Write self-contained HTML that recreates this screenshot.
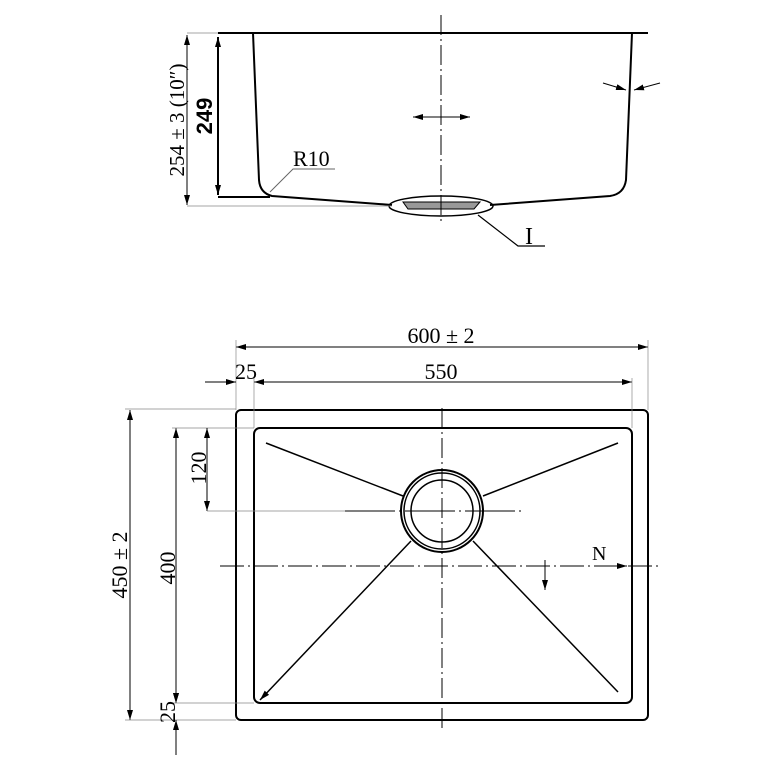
<!DOCTYPE html>
<html><head><meta charset="utf-8"><style>html,body{margin:0;padding:0;background:#fff}svg{display:block}</style></head>
<body>
<svg width="768" height="768" viewBox="0 0 768 768" xmlns="http://www.w3.org/2000/svg" font-family="Liberation Serif, serif">
<defs>
<marker id="a" viewBox="0 0 10 6" refX="10" refY="3" markerWidth="10" markerHeight="6" orient="auto-start-reverse" markerUnits="userSpaceOnUse"><path d="M0,0 L10,3 L0,6 z" fill="#000"/></marker>
</defs>
<g fill="none" stroke="#000">
<line x1="218" y1="33" x2="648" y2="33" stroke-width="2"/>
<path d="M253,33 L259,180 Q260,193 272,196 L392,205 M490,205 L610,196 Q624,194 626,180 L632,33" stroke-width="2"/>
<ellipse cx="441" cy="206" rx="52" ry="10" stroke-width="1.5"/>
<path d="M403,202 L480,202 L474,209 L408,209 Z" fill="#999" stroke-width="1"/>
<line x1="441" y1="15" x2="441" y2="225" stroke-width="1" stroke-dasharray="20,4,2,4"/>
<line x1="218" y1="37" x2="218" y2="195" stroke-width="2" marker-start="url(#a)" marker-end="url(#a)"/>
<line x1="187" y1="35" x2="187" y2="205" stroke-width="1" marker-start="url(#a)" marker-end="url(#a)"/>
<line x1="187" y1="33" x2="218" y2="33" stroke-width="0.7" stroke="#888"/>
<line x1="218" y1="197" x2="270" y2="197" stroke-width="2"/>
<line x1="187" y1="206" x2="392" y2="206" stroke-width="0.7" stroke="#888"/>
<path d="M335,169 L293,169 L270,192" stroke-width="1" stroke="#666"/>
<path d="M478,215 L518,246 L545,246" stroke-width="1.2"/>
<line x1="413" y1="117" x2="470" y2="117" stroke-width="1" marker-start="url(#a)" marker-end="url(#a)"/>
<line x1="603" y1="83" x2="626" y2="90" stroke-width="1" marker-end="url(#a)"/>
<line x1="660" y1="83" x2="634" y2="90" stroke-width="1" marker-end="url(#a)"/>
<rect x="236" y="410" width="412" height="310" rx="5" stroke-width="2"/>
<rect x="254" y="428" width="378" height="275" rx="6" stroke-width="2"/>
<circle cx="442" cy="511" r="41" stroke-width="2"/>
<circle cx="442" cy="511" r="38" stroke-width="1.5"/>
<circle cx="442" cy="511" r="31" stroke-width="1.5"/>
<line x1="266" y1="443" x2="403" y2="496" stroke-width="1.5"/>
<line x1="618" y1="443" x2="483" y2="496" stroke-width="1.5"/>
<line x1="411" y1="541" x2="260" y2="700" stroke-width="1.5" marker-end="url(#a)"/>
<line x1="473" y1="541" x2="618" y2="692" stroke-width="1.5"/>
<line x1="442" y1="408" x2="442" y2="730" stroke-width="1" stroke-dasharray="20,4,2,4"/>
<line x1="220" y1="566" x2="662" y2="566" stroke-width="1" stroke-dasharray="24,4,2,4"/>
<line x1="345" y1="511" x2="522" y2="511" stroke-width="1" stroke-dasharray="50,4,2,4"/>
<line x1="236" y1="347" x2="648" y2="347" stroke-width="1" marker-start="url(#a)" marker-end="url(#a)"/>
<line x1="236" y1="340" x2="236" y2="410" stroke-width="0.7" stroke="#888"/>
<line x1="648" y1="340" x2="648" y2="410" stroke-width="0.7" stroke="#888"/>
<line x1="205" y1="382" x2="236" y2="382" stroke-width="1" marker-end="url(#a)"/>
<line x1="275" y1="382" x2="254" y2="382" stroke-width="1" marker-end="url(#a)"/>
<line x1="254" y1="382" x2="632" y2="382" stroke-width="1" marker-end="url(#a)"/>
<line x1="254" y1="378" x2="254" y2="428" stroke-width="0.7" stroke="#888"/>
<line x1="632" y1="378" x2="632" y2="428" stroke-width="0.7" stroke="#888"/>
<line x1="130" y1="410" x2="130" y2="720" stroke-width="1" marker-start="url(#a)" marker-end="url(#a)"/>
<line x1="125" y1="409" x2="236" y2="409" stroke-width="0.7" stroke="#888"/>
<line x1="125" y1="720" x2="236" y2="720" stroke-width="0.7" stroke="#888"/>
<line x1="176" y1="428" x2="176" y2="703" stroke-width="1" marker-start="url(#a)" marker-end="url(#a)"/>
<line x1="176" y1="755" x2="176" y2="720" stroke-width="1" marker-end="url(#a)"/>
<line x1="176" y1="690" x2="176" y2="703" stroke-width="1" marker-end="url(#a)"/>
<line x1="172" y1="428" x2="254" y2="428" stroke-width="0.7" stroke="#888"/>
<line x1="172" y1="703" x2="254" y2="703" stroke-width="0.7" stroke="#888"/>
<line x1="207" y1="428" x2="207" y2="511" stroke-width="1" marker-start="url(#a)" marker-end="url(#a)"/>
<line x1="207" y1="511" x2="345" y2="511" stroke-width="0.7" stroke="#888"/>
<line x1="545" y1="560" x2="545" y2="590" stroke-width="1" marker-end="url(#a)"/>
<line x1="610" y1="566" x2="627" y2="566" stroke-width="1" marker-end="url(#a)"/>
</g>
<g fill="#000" font-size="22">
<text x="293" y="166">R10</text>
<text x="525" y="244" font-size="24">I</text>
<text transform="translate(212,116) rotate(-90)" text-anchor="middle" font-weight="bold" font-size="22" font-family="Liberation Sans, sans-serif">249</text>
<text transform="translate(184,120) rotate(-90)" text-anchor="middle" font-size="21">254 ± 3 (10″)</text>
<text x="441" y="343" text-anchor="middle">600 ± 2</text>
<text x="246" y="379" text-anchor="middle">25</text>
<text x="441" y="379" text-anchor="middle">550</text>
<text transform="translate(127,565) rotate(-90)" text-anchor="middle">450 ± 2</text>
<text transform="translate(175,568) rotate(-90)" text-anchor="middle">400</text>
<text transform="translate(206,468) rotate(-90)" text-anchor="middle">120</text>
<text transform="translate(175,712) rotate(-90)" text-anchor="middle">25</text>
<text x="592" y="560" font-size="20">N</text>
</g>
</svg>
</body></html>
